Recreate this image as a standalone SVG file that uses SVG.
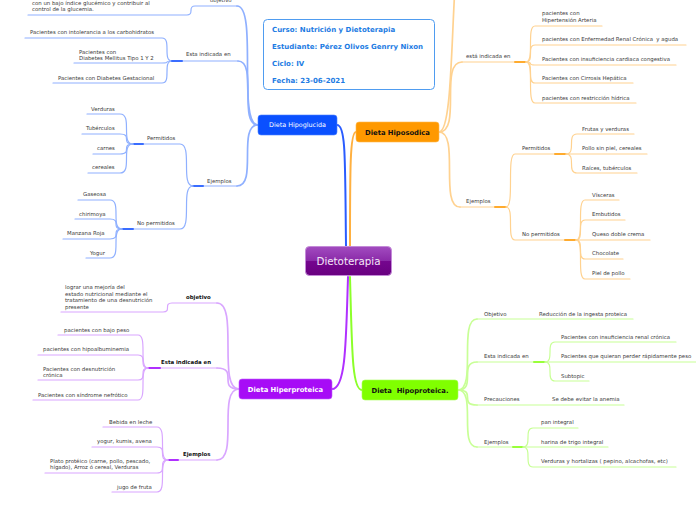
<svg xmlns="http://www.w3.org/2000/svg" width="696" height="520" viewBox="0 0 696 520">
<defs>
<linearGradient id="gc" x1="0" y1="0" x2="0" y2="1">
<stop offset="0" stop-color="#a24cc0"/>
<stop offset="0.5" stop-color="#8a2aa8"/>
<stop offset="0.5" stop-color="#75068f"/>
<stop offset="1" stop-color="#690080"/>
</linearGradient>
<style>
.t{font-family:"DejaVu Sans",Verdana,sans-serif;font-size:5.4px;fill:#3a3a3a}
.k{font-weight:bold;fill:#111}
.n{font-family:"DejaVu Sans",Verdana,sans-serif;font-size:6.8px;font-weight:bold;text-anchor:middle}
.i{font-family:"DejaVu Sans",Verdana,sans-serif;font-size:7px;font-weight:bold;fill:#1c7be3}
path{fill:none;stroke-linecap:round}
.cb{stroke:#8fb0ff;stroke-width:1.2}
.co{stroke:#ffd290;stroke-width:1.2}
.cp{stroke:#d9a6ff;stroke-width:1.2}
.cg{stroke:#c8ff96;stroke-width:1.2}
.w{stroke-width:1.7}
.tb{stroke:#3a6dff;stroke-width:2}
.to{stroke:#ffab2e;stroke-width:2}
.tp{stroke:#b030ff;stroke-width:2}
.tg{stroke:#99ff3a;stroke-width:2}
</style>
</defs>
<rect width="696" height="520" fill="#ffffff"/>
<g id="connectors">
<path d="M337,125 C346,125 345,160 346,246" stroke="#2a5cff" stroke-width="2" fill="none"/>
<path d="M350,246 C350,170 350,132 356,132" stroke="#ffb040" stroke-width="2" fill="none"/>
<path d="M348,277 C346,340 346,389 332,389" stroke="#b030ff" stroke-width="2" fill="none"/>
<path d="M350,277 C352,350 352,390 362,390" stroke="#8cff2a" stroke-width="2" fill="none"/>
<path class="cb w" d="M258,125 C237,125 258,6 237,6"/>
<path class="cb w" d="M258,125 C238,125 258,61 238,61"/>
<path class="cb w" d="M258,125 C237,125 258,186 237,186"/>
<path class="cb" d="M237,6 L195,6 C187,6 195,15 187,15 L28,15"/>
<path class="cb" d="M238,61 L172,61"/>
<path class="cb" d="M172,61 C162,61 172,38 162,38 L25,38"/>
<path class="cb" d="M172,61 C162,61 172,63 162,63 L74,63"/>
<path class="cb" d="M172,61 C162,61 172,83 162,83 L53,83"/>
<path class="tb" d="M172,61 L182,61"/>
<path class="cb" d="M237,186 L193,186"/>
<path class="tb" d="M193,186 L203,186"/>
<path class="cb" d="M193,186 C180,186 193,144 180,144 L133,144"/>
<path class="tb" d="M133,144 L143,144"/>
<path class="cb" d="M133,144 C120,144 133,114 120,114 L87,114"/>
<path class="cb" d="M133,144 C120,144 133,134 120,134 L82,134"/>
<path class="cb" d="M133,144 C120,144 133,154 120,154 L93,154"/>
<path class="cb" d="M133,144 C120,144 133,173 120,173 L88,173"/>
<path class="cb" d="M193,186 C180,186 193,229 180,229 L122,229"/>
<path class="tb" d="M122,229 L133,229"/>
<path class="cb" d="M122,229 C110,229 122,200 110,200 L78,200"/>
<path class="cb" d="M122,229 C110,229 122,219 110,219 L75,219"/>
<path class="cb" d="M122,229 C110,229 122,239 110,239 L63,239"/>
<path class="cb" d="M122,229 C110,229 122,258 110,258 L86,258"/>
<path class="co w" d="M439,132 C452,132 451,40 456,-30"/>
<path class="co w" d="M439,132 C462,132 439,62 462,62"/>
<path class="co" d="M462,62 L526,62"/>
<path class="to" d="M515,62 L526,62"/>
<path class="co" d="M526,62 C535,62 526,26 535,26 L602,26"/>
<path class="co" d="M526,62 C535,62 526,45 535,45 L686,45"/>
<path class="co" d="M526,62 C535,62 526,65 535,65 L676,65"/>
<path class="co" d="M526,62 C535,62 526,83 535,83 L633,83"/>
<path class="co" d="M526,62 C535,62 526,103 535,103 L636,103"/>
<path class="co w" d="M439,132 C460,132 439,207 460,207"/>
<path class="co" d="M460,207 L506,207"/>
<path class="to" d="M495,207 L506,207"/>
<path class="co" d="M506,207 C515,207 506,154 515,154 L566,154"/>
<path class="to" d="M555,154 L566,154"/>
<path class="co" d="M566,154 C577,154 566,134 577,134 L634,134"/>
<path class="co" d="M566,154 C577,154 566,154 577,154 L647,154"/>
<path class="co" d="M566,154 C577,154 566,173 577,173 L637,173"/>
<path class="co" d="M506,207 C515,207 506,240 515,240 L576,240"/>
<path class="to" d="M565,240 L576,240"/>
<path class="co" d="M576,240 C585,240 576,200 585,200 L619,200"/>
<path class="co" d="M576,240 C585,240 576,220 585,220 L625,220"/>
<path class="co" d="M576,240 C585,240 576,240 585,240 L650,240"/>
<path class="co" d="M576,240 C585,240 576,259 585,259 L623,259"/>
<path class="co" d="M576,240 C585,240 576,279 585,279 L630,279"/>
<path class="cp w" d="M239,389 C217,389 239,303 217,303"/>
<path class="cp" d="M217,303 L172,303 C163,303 172,312 163,312 L61,312"/>
<path class="cp w" d="M239,389 C217,389 239,368 217,368"/>
<path class="cp" d="M217,368 L148,368"/>
<path class="tp" d="M148,368 L160,368"/>
<path class="cp" d="M148,368 C138,368 148,335 138,335 L58,335"/>
<path class="cp" d="M148,368 C138,368 148,355 138,355 L38,355"/>
<path class="cp" d="M148,368 C138,368 148,380 138,380 L38,380"/>
<path class="cp" d="M148,368 C138,368 148,400 138,400 L33,400"/>
<path class="cp w" d="M239,389 C217,389 239,460 217,460"/>
<path class="cp" d="M217,460 L168,460"/>
<path class="tp" d="M168,460 L178,460"/>
<path class="cp" d="M168,460 C157,460 168,427 157,427 L103,427"/>
<path class="cp" d="M168,460 C157,460 168,447 157,447 L92,447"/>
<path class="cp" d="M168,460 C157,460 168,473 157,473 L45,473"/>
<path class="cp" d="M168,460 C157,460 168,492 157,492 L112,492"/>
<path class="cg w" d="M458,390 C477,390 458,319 477,319"/>
<path class="cg" d="M477,319 L633,319"/>
<path class="cg w" d="M458,390 C477,390 458,362 477,362"/>
<path class="cg" d="M477,362 L545,362"/>
<path class="tg" d="M534,362 L545,362"/>
<path class="cg" d="M545,362 C555,362 545,342 555,342 L676,342"/>
<path class="cg" d="M545,362 C555,362 545,362 555,362 L700,362"/>
<path class="cg" d="M545,362 C555,362 545,381 555,381 L589,381"/>
<path class="cg w" d="M458,390 C477,390 458,405 477,405"/>
<path class="cg" d="M477,405 L624,405"/>
<path class="cg w" d="M458,390 C477,390 458,447 477,447"/>
<path class="cg" d="M477,447 L523,447"/>
<path class="tg" d="M513,447 L523,447"/>
<path class="cg" d="M523,447 C533,447 523,428 533,428 L578,428"/>
<path class="cg" d="M523,447 C533,447 523,447 533,447 L608,447"/>
<path class="cg" d="M523,447 C533,447 523,467 533,467 L676,467"/>
</g>

<g id="info">
<rect x="263.5" y="19.5" width="171" height="70" rx="4" fill="#fff" stroke="#4f9cf0" stroke-width="1"/>
<text class="i" x="272" y="31.5">Curso: Nutrición y Dietoterapia</text>
<text class="i" x="272" y="48.5">Estudiante: Pérez Olivos Genrry Nixon</text>
<text class="i" x="272" y="65.5">Ciclo: IV</text>
<text class="i" x="272" y="82.5">Fecha: 23-06-2021</text>
</g>

<g id="dietoterapia">
<rect x="305.5" y="246.5" width="86" height="29" rx="4" fill="url(#gc)" stroke="#c48ad8" stroke-width="1"/>
<text x="348.5" y="264.8" text-anchor="middle" font-family="DejaVu Sans, Verdana, sans-serif" font-size="10.3" fill="#f3e6f7">Dietoterapia</text>
</g>

<g id="hipoglucida">
<rect x="258" y="115" width="79" height="20" rx="3" fill="#0a50ff" stroke="#4a80ff" stroke-width="0.6"/>
<text class="n" x="297.5" y="127.4" style="font-weight:normal;font-size:6.4px" fill="#ffffff">Dieta Hipoglucida</text>
</g>
<g id="hg-objetivo"><text class="t" x="210" y="2.3">objetivo</text></g>
<g id="hg-objetivo-leaf"><text class="t" x="32" y="5">con un bajo índice glucémico y contribuir al</text><text class="t" x="32" y="11">control de la glucemia.</text></g>
<g id="hg-indicada"><text class="t" x="186" y="56">Esta indicada en</text></g>
<g id="hg-i1"><text class="t" x="30" y="34">Pacientes con intolerancia a los carbohidratos</text></g>
<g id="hg-i2"><text class="t" x="79" y="54">Pacientes con</text><text class="t" x="79" y="60">Diabetes Mellitus Tipo 1 Y 2</text></g>
<g id="hg-i3"><text class="t" x="58" y="80">Pacientes con Diabetes Gestacional</text></g>
<g id="hg-ejemplos"><text class="t" x="207" y="183">Ejemplos</text></g>
<g id="hg-permitidos"><text class="t" x="147" y="140">Permitidos</text></g>
<g id="hg-p1"><text class="t" x="91" y="111">Verduras</text></g>
<g id="hg-p2"><text class="t" x="86" y="130">Tubérculos</text></g>
<g id="hg-p3"><text class="t" x="97" y="150">carnes</text></g>
<g id="hg-p4"><text class="t" x="92" y="169">cereales</text></g>
<g id="hg-nopermitidos"><text class="t" x="137" y="225">No permitidos</text></g>
<g id="hg-n1"><text class="t" x="83" y="196">Gaseosa</text></g>
<g id="hg-n2"><text class="t" x="79" y="216">chirimoya</text></g>
<g id="hg-n3"><text class="t" x="67" y="235">Manzana Roja</text></g>
<g id="hg-n4"><text class="t" x="90" y="255">Yogur</text></g>

<g id="hiposodica">
<rect x="356" y="122" width="83" height="20" rx="3" fill="#ff9900" stroke="#ffb84d" stroke-width="0.6"/>
<text class="n" x="397.5" y="134.5" fill="#111">Dieta Hiposodica</text>
</g>
<g id="hs-indicada"><text class="t" x="466" y="58">está indicada en</text></g>
<g id="hs-i1"><text class="t" x="542" y="15">pacientes con</text><text class="t" x="542" y="22">Hipertensión Arteria</text></g>
<g id="hs-i2"><text class="t" x="542" y="41" style="white-space:pre">pacientes con Enfermedad Renal Crónica  y aguda</text></g>
<g id="hs-i3"><text class="t" x="542" y="61">Pacientes con insuficiencia cardiaca congestiva</text></g>
<g id="hs-i4"><text class="t" x="542" y="80">Pacientes con Cirrosis Hepática</text></g>
<g id="hs-i5"><text class="t" x="542" y="100">pacientes con restricción hídrica</text></g>
<g id="hs-ejemplos"><text class="t" x="466" y="203">Ejemplos</text></g>
<g id="hs-permitidos"><text class="t" x="522" y="150">Permitidos</text></g>
<g id="hs-p1"><text class="t" x="582" y="131">Frutas y verduras</text></g>
<g id="hs-p2"><text class="t" x="582" y="150">Pollo sin piel, cereales</text></g>
<g id="hs-p3"><text class="t" x="582" y="170">Raíces, tubérculos</text></g>
<g id="hs-nopermitidos"><text class="t" x="522" y="236">No permitidos</text></g>
<g id="hs-n1"><text class="t" x="592" y="197">Vísceras</text></g>
<g id="hs-n2"><text class="t" x="592" y="216">Embutidos</text></g>
<g id="hs-n3"><text class="t" x="592" y="236">Queso doble crema</text></g>
<g id="hs-n4"><text class="t" x="592" y="255">Chocolate</text></g>
<g id="hs-n5"><text class="t" x="592" y="275">Piel de pollo</text></g>

<g id="hiperproteica">
<rect x="239" y="379" width="93" height="20" rx="3" fill="#a70cf6" stroke="#c060ff" stroke-width="0.6"/>
<text class="n" x="285.5" y="391.5" fill="#ffffff">Dieta Hiperproteica</text>
</g>
<g id="hp-objetivo"><text class="t k" x="186" y="299">objetivo</text></g>
<g id="hp-objetivo-leaf"><text class="t" x="65" y="289">lograr una mejoría del</text><text class="t" x="65" y="296">estado nutricional mediante el</text><text class="t" x="65" y="302">tratamiento de una desnutrición</text><text class="t" x="65" y="309">presente</text></g>
<g id="hp-indicada"><text class="t k" x="161" y="364">Esta indicada en</text></g>
<g id="hp-i1"><text class="t" x="64" y="332">pacientes con bajo peso</text></g>
<g id="hp-i2"><text class="t" x="43" y="351">pacientes con hipoalbuminemia</text></g>
<g id="hp-i3"><text class="t" x="43" y="371">Pacientes con desnutrición</text><text class="t" x="43" y="377">crónica</text></g>
<g id="hp-i4"><text class="t" x="38" y="397">Pacientes con síndrome nefrótico</text></g>
<g id="hp-ejemplos"><text class="t k" x="183" y="456">Ejemplos</text></g>
<g id="hp-e1"><text class="t" x="109" y="424">Bebida en leche</text></g>
<g id="hp-e2"><text class="t" x="97" y="443">yogur, kumis, avena</text></g>
<g id="hp-e3"><text class="t" x="50" y="463">Plato protéico (carne, pollo, pescado,</text><text class="t" x="50" y="469">hígado), Arroz ó cereal, Verduras</text></g>
<g id="hp-e4"><text class="t" x="117" y="489">jugo de fruta</text></g>

<g id="hipoproteica">
<rect x="362" y="380" width="96" height="20" rx="3" fill="#80ff00" stroke="#a6ff55" stroke-width="0.6"/>
<text class="n" x="410" y="392.5" fill="#111" style="white-space:pre">Dieta  Hipoproteica.</text>
</g>
<g id="hq-objetivo"><text class="t" x="484" y="316">Objetivo</text></g>
<g id="hq-objetivo-leaf"><text class="t" x="539" y="316">Reducción de la ingesta proteica</text></g>
<g id="hq-indicada"><text class="t" x="484" y="358">Esta indicada en</text></g>
<g id="hq-i1"><text class="t" x="561" y="339">Pacientes con insuficiencia renal crónica</text></g>
<g id="hq-i2"><text class="t" x="561" y="358">Pacientes que quieran perder rápidamente peso</text></g>
<g id="hq-i3"><text class="t" x="561" y="378">Subtopic</text></g>
<g id="hq-precauciones"><text class="t" x="484" y="401">Precauciones</text></g>
<g id="hq-precauciones-leaf"><text class="t" x="552" y="401">Se debe evitar la anemia</text></g>
<g id="hq-ejemplos"><text class="t" x="484" y="444">Ejemplos</text></g>
<g id="hq-e1"><text class="t" x="541" y="424">pan integral</text></g>
<g id="hq-e2"><text class="t" x="541" y="444">harina de trigo integral</text></g>
<g id="hq-e3"><text class="t" x="541" y="463">Verduras y hortalizas ( pepino, alcachofas, etc)</text></g>
</svg>
